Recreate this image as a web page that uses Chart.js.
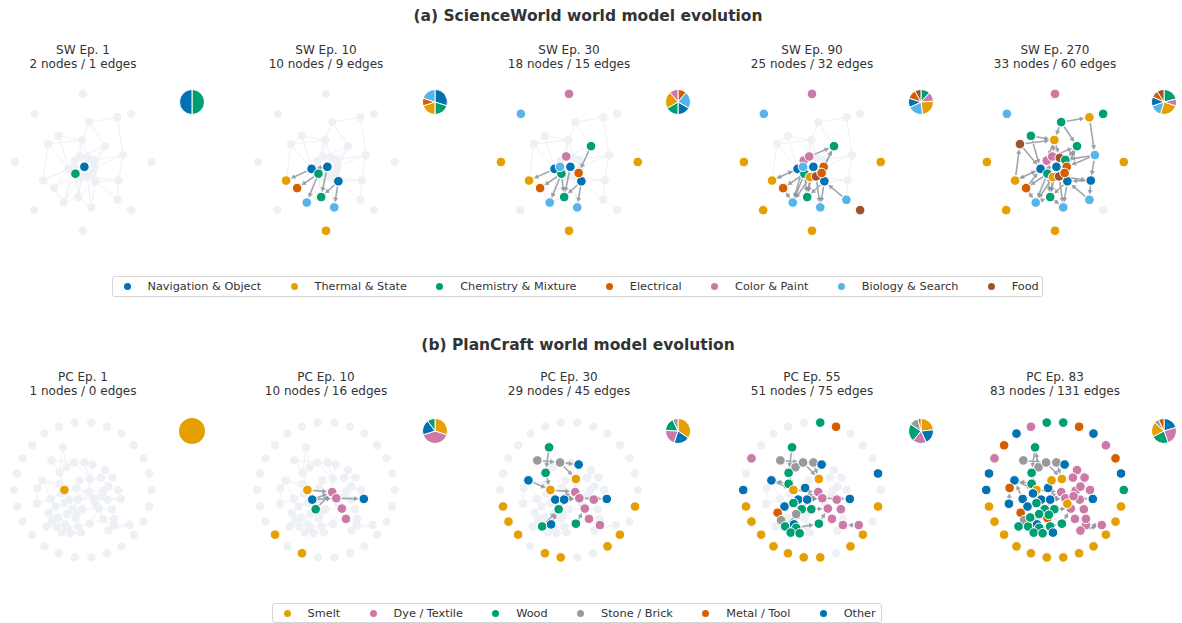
<!DOCTYPE html>
<html>
<head>
<meta charset="utf-8">
<script src="https://cdn.jsdelivr.net/npm/chart.js@4.4.1/dist/chart.umd.min.js"></script>
<style>
  body { margin: 0; background: #fff; font-family: "DejaVu Sans", sans-serif; color: #333; }
  #fig { position: relative; width: 1182px; height: 623px; overflow: hidden; }
  #fig canvas { position: absolute; }
  .title { position: absolute; font-weight: bold; font-size: 15.5px; line-height: 18px; white-space: nowrap; transform: translateX(-50%); }
  .ptitle { position: absolute; font-size: 12px; line-height: 13.5px; text-align: center; white-space: nowrap; transform: translateX(-50%); }
  .legend { position: absolute; border: 1px solid #d6d6d6; border-radius: 3px; display: flex; align-items: center;
            font-size: 11.3px; box-sizing: border-box; padding-left: 10.5px; gap: 29.3px; }
  .legend .item { display: flex; align-items: center; white-space: nowrap; }
  .legend .dot { width: 7px; height: 7px; border-radius: 50%; margin-right: 17px; }
</style>
</head>
<body>
<div id="fig"></div>
<script>
// ---------- ScienceWorld ----------
const swTitles = ['SW Ep. 1', 'SW Ep. 10', 'SW Ep. 30', 'SW Ep. 90', 'SW Ep. 270'];
const swSizes = ['2 nodes / 1 edges', '10 nodes / 9 edges', '18 nodes / 15 edges', '25 nodes / 32 edges', '33 nodes / 60 edges'];
const swCategories = ['Navigation & Object', 'Thermal & State', 'Chemistry & Mixture', 'Electrical', 'Color & Paint', 'Biology & Search', 'Food'];
const swKeys = 'NTCEPBF';
const swColors = ['#0072B2', '#E69F00', '#009E73', '#D55E00', '#CC79A7', '#56B4E9', '#A0522D'];

// final layout (unit = outer ring radius, y downwards)
const swLayout = [
  [0.00,-0.99],[-0.70,-0.70],[0.70,-0.70],[0.50,-0.65],[0.09,-0.58],
  [-0.35,-0.38],[-0.51,-0.26],[-0.01,-0.32],[0.32,-0.23],[0.58,-0.10],
  [-0.99,0.00],[1.00,0.00],[-0.12,-0.02],[-0.04,-0.08],[0.07,-0.06],
  [0.15,-0.03],[-0.21,0.10],[0.02,0.07],[0.17,0.07],[-0.11,0.17],
  [-0.03,0.22],[0.06,0.21],[0.18,0.28],[0.52,0.27],[-0.58,0.27],
  [-0.42,0.38],[-0.07,0.51],[-0.28,0.59],[0.12,0.66],[0.50,0.55],
  [-0.71,0.70],[0.70,0.70],[0.00,1.00],[-0.13,0.07],[0.14,0.16]
];
// category of each layout node per episode ('.' = not in graph yet)
const swNodes = [
  '..... ..... ..... ..N.C ..... ..... .....',
  '..... ..... ..... .NN.C ..N.T ECBB. ..T..',
  'PB... ...C. TT.P. .NN.C ..N.T ECBB. ..TBE',
  'PB... ...C. TTPP. .NNEC TFN.T ECBBB TFTBE',
  'PBCTC CFTCB TTPPF CNNEC TFNNT ECBBB T.T.E'
];
// [source, target, first episode index]
const swEdges = [
  [19,17,0],
  [16,24,1],[19,25,1],[19,27,1],[17,26,1],[22,28,1],[17,16,1],[22,26,1],[16,19,1],
  [13,17,2],[33,16,2],[34,22,2],[8,34,2],[24,25,2],[19,26,2],
  [12,13,3],[18,17,3],[20,19,3],[21,22,3],[29,22,3],[18,34,3],[20,26,3],[21,28,3],[12,16,3],
  [33,27,3],[24,16,3],[25,27,3],[18,8,3],[20,27,3],[34,21,3],[17,20,3],[13,8,3],
  [4,3,4],[3,9,4],[4,7,4],[5,7,4],[6,7,4],[7,13,4],[7,14,4],[5,16,4],[6,16,4],[9,15,4],
  [9,18,4],[9,23,4],[23,22,4],[14,15,4],[15,18,4],[14,17,4],[20,21,4],[23,29,4],[26,28,4],
  [27,26,4],[24,6,4],[25,16,4],[13,14,4],[8,15,4],[7,12,4],[5,6,4],[4,8,4],[21,23,4]
];
const swPieOrder = ['CN', 'NCTEB', 'EBNCTP', 'CPTBNEF', 'CPTBNEF'];

// ---------- PlanCraft ----------
const pcTitles = ['PC Ep. 1', 'PC Ep. 10', 'PC Ep. 30', 'PC Ep. 55', 'PC Ep. 83'];
const pcSizes = ['1 nodes / 0 edges', '10 nodes / 16 edges', '29 nodes / 45 edges', '51 nodes / 75 edges', '83 nodes / 131 edges'];
const pcCategories = ['Smelt', 'Dye / Textile', 'Wood', 'Stone / Brick', 'Metal / Tool', 'Other'];
const pcKeys = 'SDWGMO';
const pcColors = ['#E69F00', '#CC79A7', '#009E73', '#999999', '#D55E00', '#0072B2'];

const pcRing = [
  [-0.12,-0.98],[0.12,-0.98],[0.35,-0.92],[0.56,-0.82],[0.74,-0.65],
  [0.88,-0.46],[0.96,-0.24],[1.00,0.00],[0.96,0.24],[0.88,0.46],
  [0.74,0.65],[0.56,0.82],[0.35,0.92],[0.12,0.98],[-0.12,0.98],
  [-0.35,0.92],[-0.56,0.82],[-0.74,0.65],[-0.88,0.46],[-0.96,0.24],
  [-1.00,0.00],[-0.96,-0.24],[-0.88,-0.46],[-0.74,-0.65],[-0.56,-0.82],
  [-0.35,-0.92]
];
const pcInner = [
  [-0.29,-0.62],[-0.46,-0.43],[-0.24,-0.33],[-0.13,-0.40],[0.02,-0.40],
  [0.14,-0.37],[-0.34,-0.25],[0.32,-0.29],[0.26,-0.18],[0.43,-0.18],
  [0.10,-0.16],[-0.59,-0.14],[-0.66,-0.03],[-0.34,-0.09],[-0.27,0.00],
  [-0.10,-0.03],[0.09,0.03],[0.30,0.01],[0.37,-0.05],[0.51,0.00],
  [-0.47,0.13],[-0.20,0.14],[-0.07,0.14],[0.15,0.12],[0.36,0.14],
  [0.55,0.13],[-0.67,0.20],[-0.40,0.24],[-0.27,0.19],[-0.15,0.28],
  [-0.01,0.28],[0.23,0.27],[0.42,0.28],[-0.50,0.33],[-0.23,0.35],
  [-0.11,0.41],[-0.45,0.44],[0.29,0.42],[0.45,0.51],[0.10,0.49],
  [0.45,0.42],[0.68,0.51],[-0.53,0.53],[-0.39,0.53],[-0.26,0.50],
  [-0.23,0.55],[-0.07,0.53],[-0.31,0.62],[-0.18,0.63],[-0.03,0.62],
  [0.37,0.59],[-0.05,-0.14],[0.18,0.20],[-0.09,0.36],[-0.36,0.40],
  [-0.32,0.05],[0.27,0.09]
];
const pcRingNodes = [
  '..... ..... ..... ..... ..... .',
  '..... ..... ..... S.S.. ..... .',
  '..... ...S. SS..S S.SSS ..... .',
  '.WM.. .O.S. SS.SS SSSSS O.D.. .',
  'WWMOD MOWSS SSSSS SSSSS OODMO D'
];
const pcInnerNodes = [
  '..... ..... ....S ..... ..... ..... ..... ..... ..... ..... ..... ..',
  '..... ..... ....S .D... .O.D. O...W .D... ..D.. ..... ..... ..... ..',
  'WG.G. OW... SO..S .D... .OODD O...W .D... ..DDW ...WO ..... ..... ..',
  'WGGGG OW... SO.WS OD... .OODD O.OWW WDDMG .GDDW .D.WO W.WW. ..... ..',
  'WGGGG OWDDD SOMWS ODDDD OOODD OOOWW WDDMW MGDDW DDWWO WWWWO DSSWW OD'
];
// [source, target, first episode index], indices into pcInner
const pcEdges = [
  [14,16,1],[21,16,1],[16,23,1],[23,25,1],[21,29,1],[23,31,1],[31,37,1],[14,21,1],[21,23,1],[29,16,1],
  [0,6,2],[1,3,2],[3,10,2],[5,10,2],[11,14,2],[6,14,2],[10,16,2],[22,23,2],[24,23,2],[22,29,2],
  [43,44,2],[39,31,2],[38,37,2],[44,29,2],[1,6,2],[3,5,2],[24,25,2],[22,21,2],[39,37,2],[43,29,2],
  [2,3,3],[4,5,3],[2,6,3],[13,11,3],[15,16,3],[15,22,3],[27,28,3],[28,21,3],[30,31,3],[30,29,3],
  [32,31,3],[33,27,3],[34,29,3],[36,33,3],[41,38,3],[47,43,3],[48,44,3],[45,39,3],[13,14,3],[4,10,3],
  [7,8,4],[8,10,4],[9,8,4],[12,11,4],[17,16,4],[18,17,4],[19,18,4],[20,27,4],[26,20,4],[35,30,4],
  [42,36,4],[46,39,4],[49,48,4],[50,38,4],[40,37,4],[17,24,4],[19,25,4],[9,7,4],[20,11,4],[26,12,4],
  [35,34,4],[46,49,4],[50,41,4],[2,0,4],[8,18,4],[51,15,4],[52,23,4],[53,35,4],[54,33,4],[55,20,4],[56,17,4]
];
const pcPieOrder = ['S', 'SDOW', 'SODWG', 'SODWGM', 'ODWSGM'];

// ---------- drawing ----------
const fig = document.getElementById('fig');
const panelX = [83, 326, 569, 812, 1055];
const UNIT = 74;          // pixels per layout unit
const BOX = 164;          // canvas size of one network panel
const EDGE = 'rgba(135,140,150,0.75)';

function addText(cls, html, x, y) {
  const d = document.createElement('div');
  d.className = cls;
  d.innerHTML = html;
  d.style.left = x + 'px';
  d.style.top = y + 'px';
  fig.appendChild(d);
}

function addCanvas(x, y, w, h) {
  const c = document.createElement('canvas');
  c.width = w; c.height = h;
  c.style.left = x + 'px'; c.style.top = y + 'px';
  fig.appendChild(c);
  return c;
}

function drawNetwork(cx, cy, layout, cats, edges, ep, keys, colors) {
  const bgNodes = layout.map(([x, y]) => ({ x, y }));
  const bgEdges = [], lines = [], tips = [], rot = [];
  const nodes = [], nodeColors = [];
  edges.forEach(([a, b, e]) => {
    bgEdges.push({ x: layout[a][0], y: layout[a][1] }, { x: layout[b][0], y: layout[b][1] }, { x: NaN, y: NaN });
    if (e > ep || cats[a] === '.' || cats[b] === '.') return;
    const [x1, y1] = layout[a], [x2, y2] = layout[b];
    const len = Math.hypot(x2 - x1, y2 - y1);
    const ux = (x2 - x1) / len, uy = (y2 - y1) / len;
    const s = 0.08;
    if (len < 2 * s + 0.06) return;
    lines.push({ x: x1 + ux * s, y: y1 + uy * s }, { x: x2 - ux * (s + 0.04), y: y2 - uy * (s + 0.04) }, { x: NaN, y: NaN });
    tips.push({ x: x2 - ux * (s + 0.04), y: y2 - uy * (s + 0.04) });
    rot.push(Math.atan2(ux, -uy) * 180 / Math.PI);
  });
  cats.forEach((c, i) => {
    if (c === '.') return;
    nodes.push({ x: layout[i][0], y: layout[i][1] });
    nodeColors.push(colors[keys.indexOf(c)]);
  });
  const half = BOX / 2 / UNIT;
  new Chart(addCanvas(cx - BOX / 2, cy - BOX / 2, BOX, BOX), {
    type: 'scatter',
    data: {
      datasets: [
        { data: nodes, pointRadius: 4.8, pointBackgroundColor: nodeColors, pointBorderColor: '#fff', pointBorderWidth: 1, order: 1 },
        { data: tips, pointStyle: 'triangle', pointRadius: 3, pointRotation: rot, pointBackgroundColor: EDGE, pointBorderWidth: 0, order: 2 },
        { data: lines, showLine: true, borderColor: EDGE, borderWidth: 1.6, pointRadius: 0, order: 3 },
        { data: bgNodes, pointRadius: 4.2, pointBackgroundColor: '#edf0f4', pointBorderWidth: 0, order: 4 },
        { data: bgEdges, showLine: true, borderColor: '#eef0f4', borderWidth: 1, pointRadius: 0, order: 5 }
      ]
    },
    options: {
      responsive: false, animation: false, events: [],
      layout: { padding: 0 },
      plugins: { legend: { display: false }, tooltip: { enabled: false } },
      scales: {
        x: { display: false, min: -half, max: half },
        y: { display: false, min: -half, max: half, reverse: true }
      }
    }
  });
}

function drawPie(x, y, cats, order, keys, colors) {
  const counts = order.split('').map(k => cats.filter(c => c === k).length);
  new Chart(addCanvas(x - 13, y - 13, 26, 26), {
    type: 'pie',
    data: {
      datasets: [{
        data: counts,
        backgroundColor: order.split('').map(k => colors[keys.indexOf(k)]),
        borderColor: '#fff',
        borderWidth: counts.length > 1 ? 1 : 0
      }]
    },
    options: {
      responsive: false, animation: false, events: [],
      layout: { padding: 0 },
      plugins: { legend: { display: false }, tooltip: { enabled: false } }
    }
  });
}

function addLegend(x, y, w, h, labels, colors) {
  const box = document.createElement('div');
  box.className = 'legend';
  Object.assign(box.style, { left: x + 'px', top: y + 'px', width: w + 'px', height: h + 'px' });
  labels.forEach((t, i) => {
    const it = document.createElement('div');
    it.className = 'item';
    it.innerHTML = '<span class="dot" style="background:' + colors[i] + '"></span>' + t.replace('&', '&amp;');
    box.appendChild(it);
  });
  fig.appendChild(box);
}

const clean = s => s.replace(/ /g, '').split('');

// (a) ScienceWorld
addText('title', '(a) ScienceWorld world model evolution', 588, 7);
swTitles.forEach((t, i) => {
  const cx = panelX[i];
  const cats = clean(swNodes[i]);
  addText('ptitle', t + '<br>' + swSizes[i], cx, 44);
  drawNetwork(cx, 162, swLayout, cats, swEdges, i, swKeys, swColors);
  drawPie(cx + 109, 102, cats, swPieOrder[i], swKeys, swColors);
});
addLegend(112, 276, 931, 21, swCategories, swColors);

// (b) PlanCraft
const pcLayout = pcRing.concat(pcInner);
const pcAllEdges = pcEdges.map(([a, b, e]) => [a + pcRing.length, b + pcRing.length, e]);
addText('title', '(b) PlanCraft world model evolution', 578, 336);
pcTitles.forEach((t, i) => {
  const cx = panelX[i];
  const cats = clean(pcRingNodes[i]).concat(clean(pcInnerNodes[i]));
  addText('ptitle', t + '<br>' + pcSizes[i], cx, 371);
  drawNetwork(cx, 490, pcLayout, cats, pcAllEdges, i, pcKeys, pcColors);
  drawPie(cx + 109, 431, cats, pcPieOrder[i], pcKeys, pcColors);
});
addLegend(272, 603, 610, 20, pcCategories, pcColors);
</script>
</body>
</html>
